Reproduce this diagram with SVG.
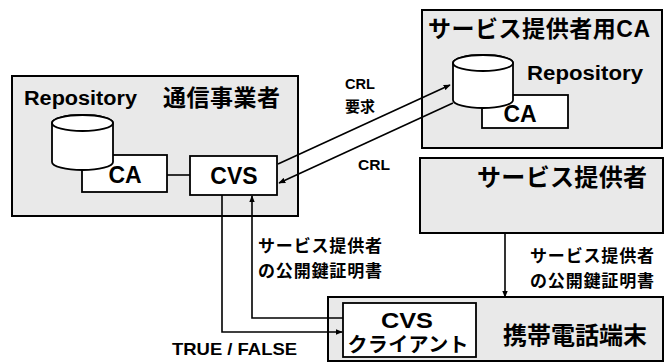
<svg xmlns="http://www.w3.org/2000/svg" width="672" height="363" viewBox="0 0 672 363">
<defs>
<marker id="ah" viewBox="0 0 10 10" refX="9" refY="5" markerWidth="7" markerHeight="7" orient="auto" markerUnits="userSpaceOnUse">
<path d="M0,1 L10,5 L0,9 z" fill="#000"/>
</marker>
</defs>
<style>
.outer{fill:#e9e9e9;stroke:#000;stroke-width:2}
.inner{fill:#fff;stroke:#000;stroke-width:1.8}
.t{font-family:"Liberation Sans","Noto Sans CJK JP",sans-serif;font-weight:bold;fill:#000}
.lat{font-size:20px}
.cjk{font-size:23px}
.box{font-size:23px}
.lbl{font-size:17px}
.conn{fill:none;stroke:#000;stroke-width:1.6}
</style>
<rect width="672" height="363" fill="#fff"/>
<g id="carrier">
<rect class="outer" x="12" y="76" width="286" height="140"/>
<text class="t lat" x="24" y="105" textLength="113" lengthAdjust="spacingAndGlyphs">Repository</text>
<text class="t cjk" x="163" y="106" textLength="117">通信事業者</text>
</g>
<g id="carrier-ca">
<rect class="inner" x="82" y="155" width="85" height="37"/>
<text class="t box" x="125" y="183" text-anchor="middle">CA</text>
</g>
<g id="carrier-repository">
<path class="inner" d="M52,123 L52,162 A30.5,8 0 0 0 113,162 L113,123 A30.5,8 0 0 0 52,123 Z"/>
<ellipse class="inner" cx="82.5" cy="123" rx="30.5" ry="8"/>
</g>
<g id="cvs">
<rect class="inner" x="190" y="156" width="87" height="39"/>
<text class="t box" x="234" y="184" text-anchor="middle">CVS</text>
</g>
<g id="sp-ca">
<rect class="outer" x="422" y="10" width="240" height="138"/>
<text class="t cjk" x="428" y="37" textLength="222">サービス提供者用CA</text>
<text class="t lat" x="527" y="80" textLength="116" lengthAdjust="spacingAndGlyphs">Repository</text>
</g>
<g id="sp-ca-ca">
<rect class="inner" x="482" y="95" width="86" height="33"/>
<text class="t box" x="520" y="122" text-anchor="middle">CA</text>
</g>
<g id="sp-ca-repository">
<path class="inner" d="M453,63 L453,100 A30,8 0 0 0 513,100 L513,63 A30,8 0 0 0 453,63 Z"/>
<ellipse class="inner" cx="483" cy="63" rx="30" ry="8"/>
</g>
<g id="service-provider">
<rect class="outer" x="420" y="158" width="243" height="75"/>
<text class="t" font-size="24" x="477" y="186" textLength="170">サービス提供者</text>
</g>
<g id="mobile">
<rect class="outer" x="328" y="297" width="335" height="64"/>
<text class="t" font-size="24" x="503" y="344" textLength="144">携帯電話端末</text>
</g>
<g id="cvs-client">
<rect class="inner" x="343" y="303" width="133" height="54"/>
<text class="t" font-size="22" x="407" y="328" text-anchor="middle" textLength="52" lengthAdjust="spacingAndGlyphs">CVS</text>
<text class="t" font-size="20" x="408" y="352" text-anchor="middle" textLength="121">クライアント</text>
</g>
<g id="connectors">
<line class="conn" x1="167" y1="175" x2="190" y2="175"/>
<line class="conn" x1="278" y1="164" x2="450" y2="85" marker-end="url(#ah)"/>
<line class="conn" x1="453" y1="103" x2="279" y2="183" marker-end="url(#ah)"/>
<line class="conn" x1="505" y1="233" x2="505" y2="297" marker-end="url(#ah)"/>
<polyline class="conn" points="343,318 252,318 252,196" marker-end="url(#ah)"/>
<polyline class="conn" points="222,195 222,332 342,332" marker-end="url(#ah)"/>
</g>
<g id="labels">
<text class="t" font-size="15" x="345" y="89" textLength="30" lengthAdjust="spacingAndGlyphs">CRL</text>
<text class="t" font-size="15" x="345" y="112">要求</text>
<text class="t" font-size="15" x="358" y="170" textLength="32" lengthAdjust="spacingAndGlyphs">CRL</text>
<text class="t lbl" x="258" y="252" textLength="124">サービス提供者</text>
<text class="t lbl" x="258" y="277" textLength="124">の公開鍵証明書</text>
<text class="t lbl" x="530" y="262" textLength="124">サービス提供者</text>
<text class="t lbl" x="530" y="287" textLength="124">の公開鍵証明書</text>
<text class="t" font-size="17" x="172" y="355" textLength="125" lengthAdjust="spacingAndGlyphs">TRUE / FALSE</text>
</g>
</svg>
